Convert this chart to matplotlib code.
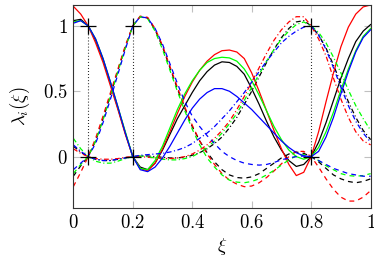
import numpy as np
import matplotlib
matplotlib.use("Agg")
import matplotlib.pyplot as plt

plt.rcParams['mathtext.fontset'] = 'cm'
plt.rcParams['font.family'] = ['DejaVu Serif']
plt.rcParams['lines.scale_dashes'] = False

xi = [0.0, 0.025, 0.05, 0.075, 0.1, 0.125, 0.15, 0.175, 0.2, 0.225,
      0.25, 0.275, 0.3, 0.325, 0.35, 0.375, 0.4, 0.425, 0.45, 0.475,
      0.5, 0.525, 0.55, 0.575, 0.6, 0.625, 0.65, 0.675, 0.7, 0.725,
      0.75, 0.775, 0.8, 0.825, 0.85, 0.875, 0.9, 0.925, 0.95, 0.975, 1.0]

nodes = [0.05, 0.2, 0.8]

# lambda_1 (solid)
l1_black = [1.04, 1.05, 1.00, 0.89, 0.74, 0.56, 0.37, 0.18, 0.00, -0.08,
            -0.10, -0.05, 0.05, 0.17, 0.29, 0.39, 0.49, 0.58, 0.65, 0.70,
            0.725, 0.72, 0.69, 0.63, 0.52, 0.40, 0.27, 0.15, 0.05, -0.03,
            -0.075, -0.06, 0.00, 0.11, 0.26, 0.43, 0.60, 0.75, 0.88, 0.96, 1.01]
l1_red = [1.15, 1.09, 1.00, 0.87, 0.72, 0.54, 0.36, 0.17, 0.00, -0.09,
          -0.11, -0.05, 0.06, 0.19, 0.33, 0.46, 0.57, 0.66, 0.73, 0.78,
          0.81, 0.815, 0.80, 0.75, 0.64, 0.50, 0.35, 0.20, 0.06, -0.06,
          -0.145, -0.12, 0.00, 0.19, 0.42, 0.64, 0.84, 0.99, 1.09, 1.145, 1.16]
l1_green = [1.03, 1.04, 1.00, 0.90, 0.75, 0.57, 0.38, 0.19, 0.00, -0.09,
            -0.10, -0.03, 0.08, 0.22, 0.36, 0.48, 0.58, 0.66, 0.72, 0.75,
            0.76, 0.755, 0.73, 0.67, 0.58, 0.47, 0.35, 0.23, 0.13, 0.05,
            0.00, -0.02, 0.00, 0.07, 0.19, 0.34, 0.51, 0.67, 0.81, 0.92, 0.98]
l1_blue = [1.02, 1.04, 1.00, 0.90, 0.75, 0.57, 0.38, 0.18, 0.00, -0.10,
           -0.115, -0.08, -0.01, 0.08, 0.18, 0.28, 0.37, 0.44, 0.49, 0.52,
           0.52, 0.50, 0.46, 0.41, 0.36, 0.30, 0.24, 0.18, 0.12, 0.07,
           0.03, 0.005, 0.00, 0.04, 0.15, 0.30, 0.48, 0.65, 0.80, 0.91, 0.97]

# lambda_2 (dashed)
l2_black = [-0.15, -0.07, 0.00, 0.12, 0.29, 0.47, 0.66, 0.84, 1.00, 1.07,
            1.06, 0.97, 0.84, 0.68, 0.52, 0.37, 0.23, 0.12, 0.03, -0.04,
            -0.10, -0.14, -0.16, -0.165, -0.155, -0.13, -0.09, -0.05, -0.01, 0.02,
            0.035, 0.025, 0.00, -0.04, -0.09, -0.14, -0.17, -0.19, -0.20, -0.19, -0.17]
l2_red = [-0.23, -0.12, 0.00, 0.14, 0.31, 0.49, 0.67, 0.85, 1.00, 1.075,
          1.065, 0.98, 0.85, 0.69, 0.53, 0.38, 0.24, 0.12, 0.02, -0.06,
          -0.13, -0.18, -0.21, -0.23, -0.225, -0.20, -0.16, -0.11, -0.055, 0.00,
          0.04, 0.04, 0.00, -0.08, -0.17, -0.25, -0.31, -0.34, -0.34, -0.31, -0.26]
l2_green = [-0.13, -0.06, 0.00, 0.12, 0.28, 0.46, 0.65, 0.83, 1.00, 1.07,
            1.055, 0.96, 0.82, 0.66, 0.50, 0.35, 0.21, 0.09, -0.01, -0.08,
            -0.14, -0.18, -0.195, -0.20, -0.19, -0.17, -0.14, -0.105, -0.065, -0.025,
            0.005, 0.015, 0.00, -0.03, -0.07, -0.10, -0.13, -0.145, -0.15, -0.145, -0.13]
l2_blue = [-0.10, -0.05, 0.00, 0.10, 0.26, 0.44, 0.63, 0.82, 1.00, 1.07,
           1.06, 0.98, 0.86, 0.71, 0.56, 0.42, 0.31, 0.23, 0.16, 0.10,
           0.04, 0.00, -0.03, -0.05, -0.06, -0.065, -0.06, -0.045, -0.025, -0.01,
           0.00, 0.005, 0.00, -0.03, -0.06, -0.09, -0.11, -0.13, -0.14, -0.15, -0.15]

# lambda_3 (dash-dotted)
l3_black = [0.08, 0.035, 0.00, -0.02, -0.03, -0.03, -0.02, -0.01, 0.00, 0.005,
            0.005, 0.00, -0.005, -0.01, -0.01, -0.005, 0.01, 0.03, 0.06, 0.10,
            0.15, 0.22, 0.30, 0.40, 0.50, 0.61, 0.72, 0.82, 0.91, 0.98,
            1.03, 1.04, 1.00, 0.93, 0.83, 0.70, 0.56, 0.42, 0.30, 0.20, 0.13]
l3_red = [0.06, 0.025, 0.00, -0.015, -0.02, -0.02, -0.015, -0.005, 0.00, 0.00,
          -0.005, -0.01, -0.015, -0.015, -0.01, 0.00, 0.02, 0.05, 0.09, 0.14,
          0.20, 0.27, 0.36, 0.46, 0.57, 0.68, 0.79, 0.89, 0.97, 1.03,
          1.07, 1.07, 1.00, 0.90, 0.77, 0.60, 0.44, 0.30, 0.19, 0.12, 0.09]
l3_green = [0.14, 0.06, 0.00, -0.035, -0.05, -0.05, -0.035, -0.015, 0.00, 0.005,
            0.00, -0.01, -0.02, -0.025, -0.025, -0.015, 0.00, 0.03, 0.07, 0.12,
            0.18, 0.25, 0.33, 0.43, 0.53, 0.63, 0.73, 0.82, 0.90, 0.96,
            1.01, 1.03, 1.00, 0.95, 0.87, 0.76, 0.64, 0.51, 0.39, 0.29, 0.20]
l3_blue = [0.09, 0.04, 0.00, -0.02, -0.03, -0.03, -0.02, -0.01, 0.00, 0.01,
           0.015, 0.02, 0.025, 0.035, 0.05, 0.07, 0.10, 0.14, 0.18, 0.23,
           0.29, 0.35, 0.42, 0.49, 0.57, 0.65, 0.73, 0.80, 0.87, 0.92,
           0.96, 0.99, 1.00, 0.93, 0.82, 0.68, 0.53, 0.39, 0.27, 0.18, 0.11]

xticks = [0, 0.2, 0.4, 0.6, 0.8, 1.0]
xticklabels = ['$0$', '$0.2$', '$0.4$', '$0.6$', '$0.8$', '$1$']
yticks = [0, 0.5, 1.0]
yticklabels = ['$0$', '$0.5$', '$1$']

fig = plt.figure(figsize=(3.74, 2.60), dpi=100)
ax = fig.add_axes([0.196, 0.199, 0.795, 0.782])

lw = 0.9
dashed = (3.5, 3.0)
dashdot = (3.5, 1.8, 0.8, 1.8)
colors = {'black': 'black', 'red': '#ff0000', 'green': '#00ff00', 'blue': '#0000ff'}

series = [
    ('black', l1_black, l2_black, l3_black),
    ('red', l1_red, l2_red, l3_red),
    ('green', l1_green, l2_green, l3_green),
    ('blue', l1_blue, l2_blue, l3_blue),
]
for name, a, b, c in series:
    col = colors[name]
    ax.plot(xi, a, color=col, lw=lw)
    ax.plot(xi, b, color=col, lw=lw, dashes=dashed)
    ax.plot(xi, c, color=col, lw=lw, dashes=dashdot)

for n in nodes:
    ax.plot([n, n], [0, 1], color='black', lw=0.8, linestyle=(0, (0.6, 1.6)))
    ax.plot([n, n], [0, 1], linestyle='none', marker='+', ms=11, mew=0.9, color='black')

fs = 13.5
ax.set_xlim(0, 1)
ax.set_ylim(-0.395, 1.16)
ax.set_xticks(xticks)
ax.set_xticklabels(xticklabels, fontsize=fs)
ax.set_yticks(yticks)
ax.set_yticklabels(yticklabels, fontsize=fs)
ax.tick_params(direction='in', length=5, width=0.8, color='#c0c0c0',
               top=True, right=True, pad=4)
for s in ax.spines.values():
    s.set_linewidth(0.8)
    s.set_color('#333333')

ax.set_xlabel(r'$\xi$', fontsize=fs, labelpad=3)
ax.set_ylabel(r'$\lambda_i(\xi)$', fontsize=fs, labelpad=8)

fig.savefig('out.png', dpi=100)
